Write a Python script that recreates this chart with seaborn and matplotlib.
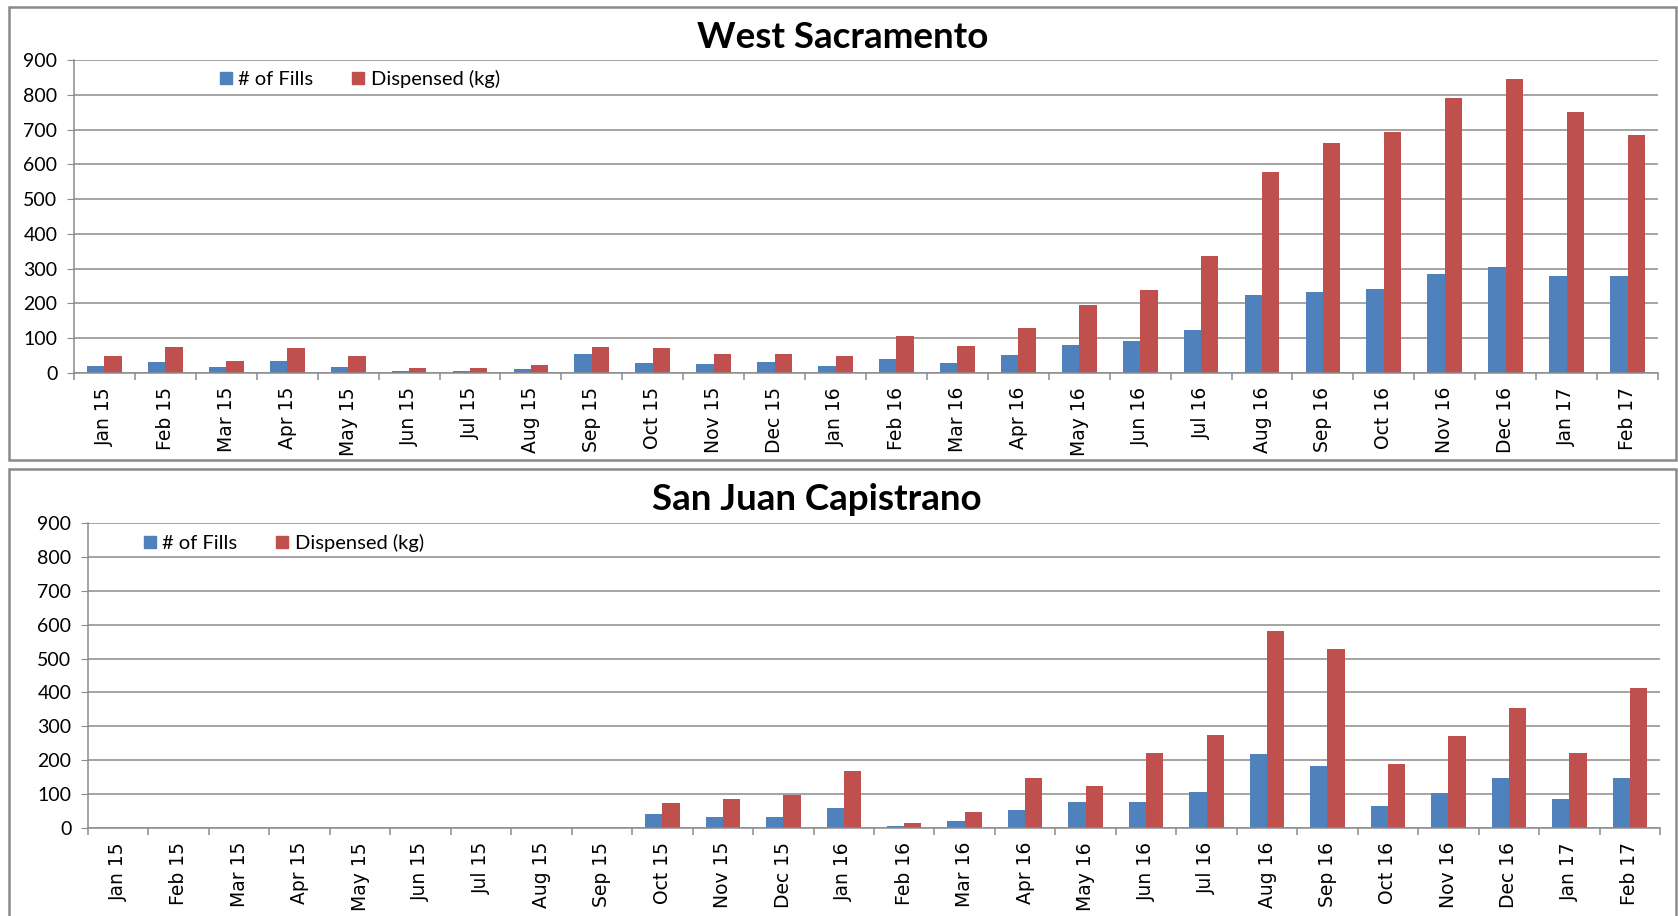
import pandas as pd
import matplotlib.pyplot as plt
import seaborn as sns
from matplotlib.patches import Rectangle
from matplotlib.lines import Line2D

# Monthly data
months = ['Jan 15', 'Feb 15', 'Mar 15', 'Apr 15', 'May 15', 'Jun 15', 'Jul 15',
          'Aug 15', 'Sep 15', 'Oct 15', 'Nov 15', 'Dec 15', 'Jan 16', 'Feb 16',
          'Mar 16', 'Apr 16', 'May 16', 'Jun 16', 'Jul 16', 'Aug 16', 'Sep 16',
          'Oct 16', 'Nov 16', 'Dec 16', 'Jan 17', 'Feb 17']

ws_fills = [19, 32, 16, 34, 16, 7, 7, 12, 54, 29, 26, 32, 19,
            41, 29, 51, 81, 91, 125, 223, 233, 242, 285, 304, 280, 280]
ws_kg = [48, 76, 34, 73, 48, 15, 15, 22, 76, 73, 54, 56, 48,
         105, 79, 128, 196, 239, 335, 577, 660, 694, 790, 846, 751, 685]

sjc_fills = [0, 0, 0, 0, 0, 0, 0, 0, 0, 42, 32, 32, 58,
             7, 20, 52, 78, 78, 106, 217, 182, 65, 102, 147, 86, 147]
sjc_kg = [0, 0, 0, 0, 0, 0, 0, 0, 0, 74, 86, 96, 169,
          14, 48, 147, 125, 220, 274, 581, 527, 188, 271, 353, 220, 413]

series_names = ['# of Fills', 'Dispensed (kg)']
BLUE = '#4F81BD'
RED = '#C0504D'
GRID = '#8c8c8c'

plt.rcParams['font.family'] = ['Lato', 'DejaVu Sans']

W, H = 1678, 916
fig = plt.figure(figsize=(W / 100, H / 100), dpi=100)


def px_rect(x0, y0, x1, y1):
    # pixel box (top-left origin) -> figure fraction
    return [x0 / W, 1 - y1 / H, (x1 - x0) / W, (y1 - y0) / H]


def draw_panel(rect, fills, kg, title, title_xy, legend_xy):
    ax = fig.add_axes(rect)
    df = pd.DataFrame({'Month': months, series_names[0]: fills, series_names[1]: kg})
    long_df = df.melt(id_vars='Month', var_name='Series', value_name='Value')
    sns.barplot(data=long_df, x='Month', y='Value', hue='Series', order=months,
                palette=[BLUE, RED], width=0.57, saturation=1, linewidth=0,
                ax=ax, legend=False)

    ax.set_xlim(-0.5, len(months) - 0.5)
    ax.set_ylim(0, 900)
    ax.set_yticks(range(0, 901, 100))
    ax.yaxis.grid(True, color=GRID, linewidth=1.1)
    ax.set_axisbelow(True)
    ax.set_xlabel('')
    ax.set_ylabel('')

    for s in ['top', 'right']:
        ax.spines[s].set_visible(False)
    for s in ['left', 'bottom']:
        ax.spines[s].set_color(GRID)
        ax.spines[s].set_linewidth(1.1)

    ax.tick_params(axis='y', length=5, color=GRID, pad=7, labelsize=14)
    ax.set_xticks(range(len(months)))
    ax.set_xticklabels(months, rotation=90, family='DejaVu Sans', fontsize=13.5)
    ax.tick_params(axis='x', which='major', length=0, pad=10)
    ax.set_xticks([i - 0.5 for i in range(len(months) + 1)], minor=True)
    ax.tick_params(axis='x', which='minor', length=5, color=GRID, width=1.1)

    fig.text(title_xy[0] / W, 1 - title_xy[1] / H, title, ha='center', va='center',
             fontsize=26.5, fontweight='bold')

    handles = [Line2D([], [], marker='s', linestyle='none', markersize=8,
                      markerfacecolor=c, markeredgecolor=c) for c in (BLUE, RED)]
    ax.legend(handles, series_names, loc='center left', ncol=2, frameon=False,
              fontsize=14.5, handlelength=0.65, handletextpad=0.3,
              columnspacing=1.9, borderaxespad=0, borderpad=0,
              bbox_to_anchor=(legend_xy[0] / W, 1 - legend_xy[1] / H),
              bbox_transform=fig.transFigure)
    return ax


# panel borders
for box in [(9, 7, 1676, 460), (9, 469, 1676, 930)]:
    fig.patches.append(Rectangle((box[0] / W, 1 - box[3] / H),
                                 (box[2] - box[0]) / W, (box[3] - box[1]) / H,
                                 transform=fig.transFigure, fill=False,
                                 edgecolor='#8a8a8a', linewidth=1.8))

draw_panel(px_rect(74, 60, 1658, 373), ws_fills, ws_kg,
           'West Sacramento', (843, 38), (219, 79))
draw_panel(px_rect(88, 523, 1660, 828), sjc_fills, sjc_kg,
           'San Juan Capistrano', (817, 500), (143, 543))

plt.savefig('out.png', dpi=100)
